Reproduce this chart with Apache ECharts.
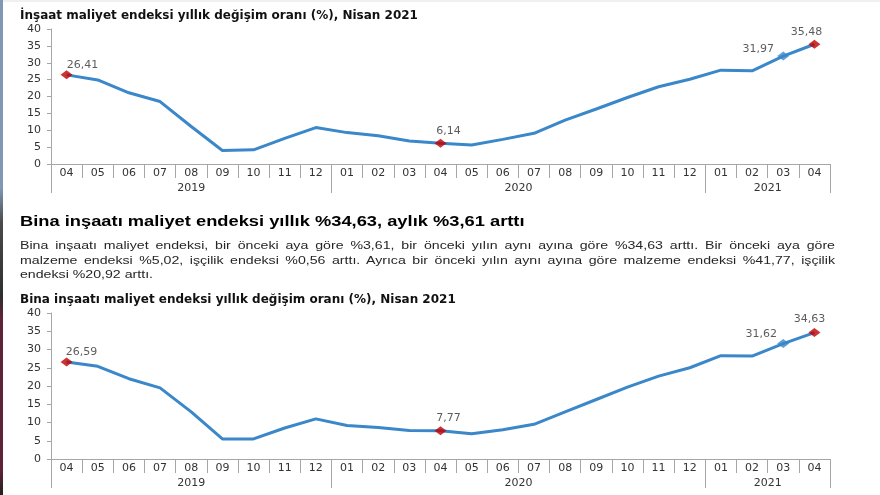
<!DOCTYPE html>
<html>
<head>
<meta charset="utf-8">
<script src="https://cdn.jsdelivr.net/npm/echarts@6/dist/echarts.min.js"></script>
<style>
html,body{margin:0;padding:0;background:#fff;}
#wrap{position:relative;width:880px;height:495px;overflow:hidden;background:#fff;}
#chart{position:absolute;left:0;top:0;width:880px;height:495px;}
#edge{position:absolute;left:0;top:0;width:3px;height:495px;
  background:linear-gradient(to bottom,#7f99b3 0%,#7f99b3 38%,#4a4a4a 45%,#2e2e2e 60%,#5e2337 64%,#5e2337 95%,#222 100%);}
#topline{position:absolute;left:0;top:0;width:880px;height:2px;background:#f0f0f0;}
#heading{position:absolute;left:20px;top:212px;font:bold 15px "Liberation Sans",Arial,sans-serif;color:#000;white-space:nowrap;transform-origin:0 0;transform:scaleX(1.22);}
#para{position:absolute;left:20px;top:238px;font:11px/14.5px "Liberation Sans",Arial,sans-serif;color:#262626;transform-origin:0 0;}
#para .j{text-align:justify;text-align-last:justify;white-space:nowrap;}
#para .l{white-space:nowrap;}
</style>
</head>
<body>
<div id="wrap">
  <div id="chart"></div>
  <div id="topline"></div>
  <div id="edge"></div>
  <div id="heading"></div>
  <div id="para"></div>
</div>
<script>
// ---------- data ----------
const months = ['04','05','06','07','08','09','10','11','12','01','02','03','04','05','06','07','08','09','10','11','12','01','02','03','04'];
const years = ['2019','2020','2021'];
const yearMonthCounts = [9, 12, 4];
const yMin = 0, yMax = 40, yStep = 5;

const title1 = 'İnşaat maliyet endeksi yıllık değişim oranı (%), Nisan 2021';
const title2 = 'Bina inşaatı maliyet endeksi yıllık değişim oranı (%), Nisan 2021';

const insaatValues = [26.41,24.9,21.1,18.5,11.1,4.0,4.2,7.6,10.8,9.3,8.4,6.8,6.14,5.6,7.3,9.1,13.0,16.3,19.7,22.9,25.1,27.8,27.6,31.97,35.48];
const binaValues   = [26.59,25.4,22.0,19.5,12.9,5.5,5.5,8.5,11.0,9.2,8.6,7.8,7.77,6.9,8.0,9.5,12.9,16.3,19.7,22.7,25.0,28.3,28.2,31.62,34.63];

const redPoints = [0, 12, 24];
const bluePoints = [23];

const headingText = 'Bina inşaatı maliyet endeksi yıllık %34,63, aylık %3,61 arttı';
const paraLines = [
  'Bina inşaatı maliyet endeksi, bir önceki aya göre %3,61, bir önceki yılın aynı ayına göre %34,63 arttı. Bir önceki aya göre',
  'malzeme endeksi %5,02, işçilik endeksi %0,56 arttı. Ayrıca bir önceki yılın aynı ayına göre malzeme endeksi %41,77, işçilik',
  'endeksi %20,92 arttı.'
];

// ---------- text blocks ----------
document.getElementById('heading').textContent = headingText;
const para = document.getElementById('para');
const PARA_WIDTH = 815;      // target justified width on screen
const LAST_LINE_WIDTH = 133; // on-screen width of the short last line
const spans = paraLines.map((t, i) => {
  const d = document.createElement('div');
  d.className = i < paraLines.length - 1 ? 'j' : 'l';
  const s = document.createElement('span');
  s.textContent = t;
  d.appendChild(s);
  para.appendChild(d);
  return s;
});
const natural = spans.map(s => s.getBoundingClientRect().width);
const sx = LAST_LINE_WIDTH / natural[natural.length - 1];
const innerW = PARA_WIDTH / sx;
const widest = Math.max(...natural.slice(0, -1));
if (widest > innerW) {
  const gaps = Math.max(...paraLines.slice(0, -1).map(t => t.split(' ').length - 1));
  para.style.wordSpacing = (-(widest - innerW) / gaps - 0.2) + 'px';
}
para.style.width = innerW + 'px';
para.style.transform = 'scaleX(' + sx + ')';

// ---------- year axis helpers (half-month grid) ----------
const halfCats = [];
for (let i = 0; i <= months.length * 2; i++) halfCats.push(String(i));
const yearBoundary = new Set();
const yearLabelAt = {};
let start = 0;
yearMonthCounts.forEach((n, k) => {
  yearBoundary.add(start * 2);
  yearLabelAt[start * 2 + n] = years[k];
  start += n;
});
yearBoundary.add(start * 2);

// ---------- styles ----------
const FONT = 'DejaVu Sans';
const axisGrey = '#a6a6a6';
const lineBlue = '#3a87c9';
const red = '#c00000';
const labelStyle = {fontFamily: FONT, fontSize: 11, color: '#333'};

const labelOffsets = [
  {0: [16, -10], 12: [8, -12], 23: [-25, -7], 24: [-8, -12]},
  {0: [15, -10], 12: [8, -12], 23: [-22, -9], 24: [-5, -13]}
];

const fmt = v => String(v).replace('.', ',');

function monthAxis(g) {
  return {
    type: 'category', gridIndex: g, data: months, boundaryGap: true, position: 'bottom', offset: 0,
    axisLine: {show: true, lineStyle: {color: axisGrey, width: 1}},
    axisTick: {show: true, interval: 0, length: 14, lineStyle: {color: axisGrey}},
    axisLabel: Object.assign({interval: 0, margin: 4}, labelStyle),
    splitLine: {show: false}
  };
}
function yearAxis(g) {
  return {
    type: 'category', gridIndex: g, data: halfCats, boundaryGap: false, position: 'bottom', offset: 0,
    axisLine: {show: false},
    axisTick: {show: true, interval: (i) => yearBoundary.has(i), length: 29, lineStyle: {color: axisGrey}},
    axisLabel: Object.assign({interval: 0, margin: 19, formatter: (v, i) => yearLabelAt[i] || ''}, labelStyle),
    splitLine: {show: false}
  };
}
function valueAxis(g) {
  return {
    type: 'value', gridIndex: g, min: yMin, max: yMax, interval: yStep,
    axisLine: {show: true, lineStyle: {color: axisGrey}},
    axisTick: {show: true, length: 4, lineStyle: {color: axisGrey}},
    axisLabel: Object.assign({margin: 10}, labelStyle),
    splitLine: {show: false}
  };
}
function lineSeries(g, values) {
  return {
    type: 'line', xAxisIndex: g * 2, yAxisIndex: g, data: values,
    symbol: 'none', lineStyle: {color: lineBlue, width: 3}, z: 2, animation: false
  };
}
function markSeries(g, values, idxs, color) {
  return {
    type: 'scatter', xAxisIndex: g * 2, yAxisIndex: g,
    symbol: 'diamond', symbolSize: [12, 9], itemStyle: {color: color}, z: 3, animation: false,
    data: values.map((v, i) => idxs.includes(i) ? {
      value: v,
      label: {show: true, position: 'inside', offset: labelOffsets[g][i], formatter: fmt(v),
              fontFamily: FONT, fontSize: 11, color: '#333'}
    } : '-')
  };
}

const titleStyle = {fontFamily: FONT, fontWeight: 'bold', fontSize: 12, color: '#111'};
const chart = echarts.init(document.getElementById('chart'), null, {renderer: 'canvas'});
chart.setOption({
  backgroundColor: 'transparent',
  animation: false,
  title: [
    {text: title1, left: 20, top: 10, padding: 0, textStyle: titleStyle},
    {text: title2, left: 20, top: 294, padding: 0, textStyle: titleStyle}
  ],
  grid: [
    {left: 51, right: 50, top: 29, height: 135},
    {left: 51, right: 50, top: 313, height: 146}
  ],
  xAxis: [monthAxis(0), yearAxis(0), monthAxis(1), yearAxis(1)],
  yAxis: [valueAxis(0), valueAxis(1)],
  series: [
    lineSeries(0, insaatValues),
    markSeries(0, insaatValues, redPoints, red),
    markSeries(0, insaatValues, bluePoints, lineBlue),
    lineSeries(1, binaValues),
    markSeries(1, binaValues, redPoints, red),
    markSeries(1, binaValues, bluePoints, lineBlue)
  ]
});
</script>
</body>
</html>
